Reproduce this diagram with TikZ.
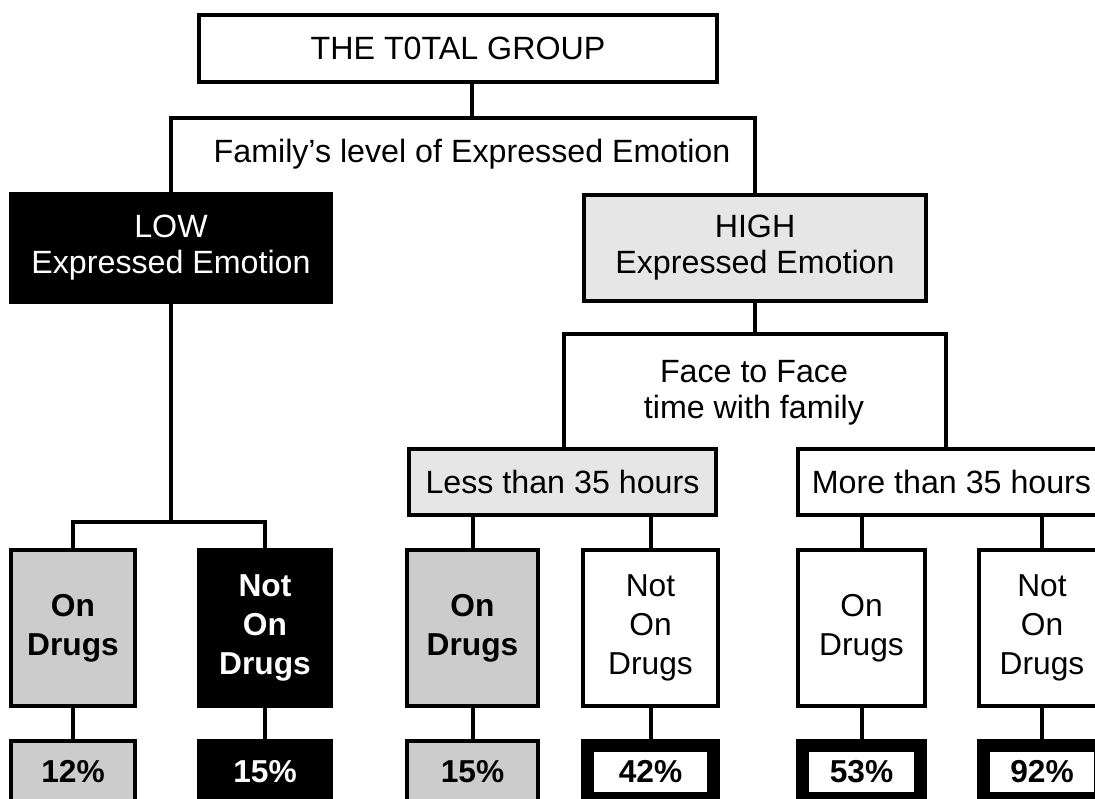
\documentclass[tikz,border=0pt]{standalone}
\usepackage{fontspec}
\setmainfont{Liberation Sans}
\definecolor{lg}{HTML}{E6E6E6}
\definecolor{mg}{HTML}{CCCCCC}
\begin{document}
\begin{tikzpicture}[x=1pt,y=-1pt,
  txt/.style={font=\fontsize{32.2}{36}\selectfont, align=center, inner sep=0pt},
  bx/.style={txt, draw=black, line width=4pt, fill=white},
  tbx/.style={txt, draw=black, line width=13pt, fill=white},
  dr/.style={font=\fontsize{31.7}{39}\selectfont},
  bf/.style={font=\fontsize{31.7}{39}\selectfont\bfseries},
  conn/.style={draw=black, line width=4pt}]
\useasboundingbox (0,0) rectangle (1095,799);
\clip (0,0) rectangle (1095,799);

% level 0 and 1
\node[bx, minimum width=518pt, minimum height=67pt] (top) at (458,48.5) {THE T0TAL GROUP};
\node[txt] (fam) at (472,154) {Family’s level of Expressed Emotion};
\node[bx, fill=black, text=white, minimum width=320pt, minimum height=108pt] (low) at (171,248) {LOW\\Expressed Emotion};
\node[bx, fill=lg, minimum width=342pt, minimum height=106pt] (high) at (755,248) {HIGH\\Expressed Emotion};

% level 2
\node[txt] (face) at (754,393) {Face to Face\\time with family};
\node[bx, fill=lg, minimum width=307pt, minimum height=66pt] (less) at (562.5,482) {Less than 35 hours};
\node[bx, minimum width=307pt, minimum height=66pt] (more) at (951.5,482) {More than 35 hours};

% level 3
\node[bx, fill=mg, bf, minimum width=124pt, minimum height=156pt] (d1) at (73,628) {On\\Drugs};
\node[bx, fill=black, text=white, bf, minimum width=132pt, minimum height=156pt] (d2) at (265,628) {Not\\On\\Drugs};
\node[bx, fill=mg, bf, minimum width=131pt, minimum height=156pt] (d3) at (472.5,628) {On\\Drugs};
\node[bx, dr, minimum width=135pt, minimum height=156pt] (d4) at (650.5,628) {Not\\On\\Drugs};
\node[bx, dr, minimum width=127pt, minimum height=156pt] (d5) at (861.5,628) {On\\Drugs};
\node[bx, dr, minimum width=126pt, minimum height=156pt] (d6) at (1042,628) {Not\\On\\Drugs};

% percentages
\node[bx, fill=mg, bf, minimum width=124pt, minimum height=62pt] (p1) at (73,772) {12\%};
\node[bx, fill=black, text=white, bf, minimum width=132pt, minimum height=62pt] (p2) at (265,772) {15\%};
\node[bx, fill=mg, bf, minimum width=131pt, minimum height=62pt] (p3) at (472.5,772) {15\%};
\node[tbx, bf, minimum width=126pt, minimum height=53pt] (p4) at (650.5,772) {42\%};
\node[tbx, bf, minimum width=118pt, minimum height=53pt] (p5) at (861.5,772) {53\%};
\node[tbx, bf, minimum width=117pt, minimum height=53pt] (p6) at (1042,772) {92\%};

% connectors
\coordinate (j1) at (472,118);
\draw[conn] (j1 |- top.south) -- (j1);
\draw[conn] (low.north) -- (low.north |- j1) -- (high.north |- j1) -- (high.north);
\coordinate (f1) at (564,334.5);
\coordinate (f2) at (945.5,334.5);
\draw[conn] (high.south) -- (high.south |- f1);
\draw[conn] (less.north -| f1) -- (f1) -- (f2) -- (more.north -| f2);
\coordinate (j2) at (171,522);
\draw[conn] (low.south) -- (j2);
\draw[conn] (d1.north) -- (d1.north |- j2) -- (d2.north |- j2) -- (d2.north);
\draw[conn] (less.south -| d3.north) -- (d3.north);
\draw[conn] (less.south -| d4.north) -- (d4.north);
\draw[conn] (more.south -| d5.north) -- (d5.north);
\draw[conn] (more.south -| d6.north) -- (d6.north);
\draw[conn] (d1.south) -- (p1.north);
\draw[conn] (d2.south) -- (p2.north);
\draw[conn] (d3.south) -- (p3.north);
\draw[conn] (d4.south) -- (p4.north);
\draw[conn] (d5.south) -- (p5.north);
\draw[conn] (d6.south) -- (p6.north);
\end{tikzpicture}
\end{document}
